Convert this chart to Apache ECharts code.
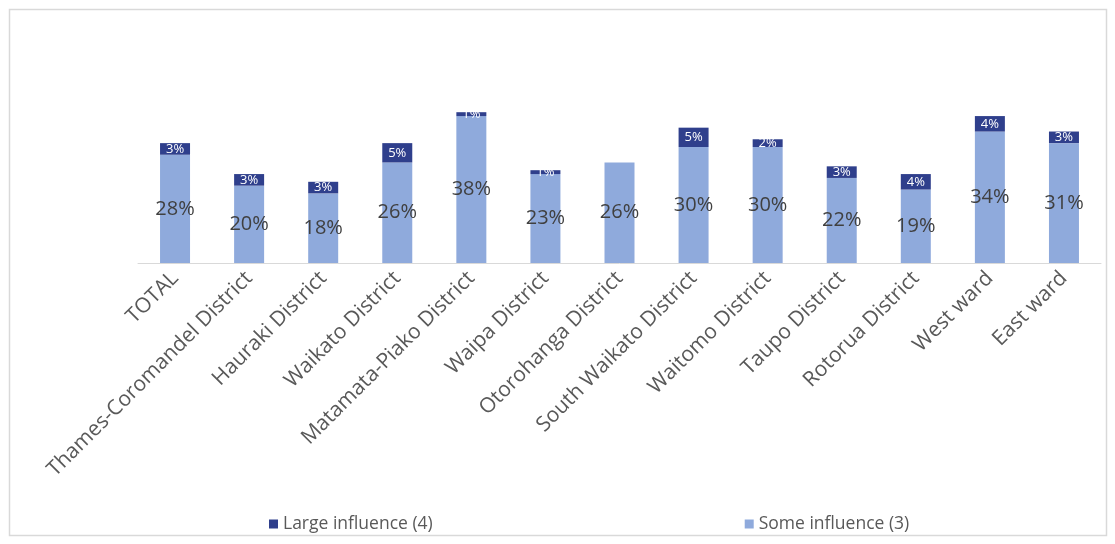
<!DOCTYPE html>
<html>
<head>
<meta charset="utf-8">
<script src="https://cdn.jsdelivr.net/npm/echarts@6/dist/echarts.min.js"></script>
<style>
  html, body { margin: 0; padding: 0; background: #ffffff; }
  #chart { width: 1115px; height: 544px; }
</style>
</head>
<body>
<div id="chart"></div>
<script>
// Share of respondents by area
const categories = [
  'TOTAL', 'Thames-Coromandel District', 'Hauraki District', 'Waikato District',
  'Matamata-Piako District', 'Waipa District', 'Otorohanga District',
  'South Waikato District', 'Waitomo District', 'Taupo District',
  'Rotorua District', 'West ward', 'East ward'
];
const someInfluence  = [28, 20, 18, 26, 38, 23, 26, 30, 30, 22, 19, 34, 31];
const largeInfluence = [3, 3, 3, 5, 1, 1, 0, 5, 2, 3, 4, 4, 3];

const FONT = '"Open Sans", "Liberation Sans", sans-serif';
const TEXT = '#595959';

const chart = echarts.init(document.getElementById('chart'), null, { renderer: 'canvas' });

chart.setOption({
  backgroundColor: '#ffffff',
  animation: false,
  graphic: [{
    type: 'rect',
    shape: { x: 9.5, y: 9.5, width: 1097, height: 526 },
    style: { fill: 'none', stroke: '#d9d9d9', lineWidth: 1.5 },
    silent: true,
    z: -1
  }],
  grid: { left: 138, right: 14, top: 89, bottom: 281, containLabel: false },
  legend: {
    bottom: 6,
    left: 264,
    itemGap: 312,
    itemWidth: 9,
    itemHeight: 9,
    icon: 'rect',
    textStyle: { color: TEXT, fontSize: 17.5, fontFamily: FONT },
    data: ['Large influence (4)', 'Some influence (3)']
  },
  xAxis: {
    type: 'category',
    data: categories,
    axisLine: { lineStyle: { color: '#d9d9d9', width: 1 } },
    axisTick: { show: false },
    axisLabel: {
      interval: 0,
      rotate: 45,
      margin: 12,
      color: TEXT,
      fontSize: 21,
      fontFamily: FONT
    }
  },
  yAxis: {
    type: 'value',
    min: 0,
    max: 45,
    show: false,
    splitLine: { show: false }
  },
  series: [
    {
      name: 'Some influence (3)',
      type: 'bar',
      stack: 'total',
      barWidth: 30,
      data: someInfluence,
      itemStyle: { color: '#8faadc' },
      label: {
        show: true,
        position: 'inside',
        formatter: p => p.value + '%',
        color: '#404040',
        fontSize: 20,
        fontFamily: FONT
      }
    },
    {
      name: 'Large influence (4)',
      type: 'bar',
      stack: 'total',
      barWidth: 30,
      data: largeInfluence,
      itemStyle: { color: '#2f3f8c' },
      label: {
        show: true,
        position: 'inside',
        formatter: p => (p.value > 0 ? p.value + '%' : ''),
        color: '#ffffff',
        fontSize: 13,
        fontFamily: FONT
      }
    }
  ]
});
</script>
</body>
</html>
